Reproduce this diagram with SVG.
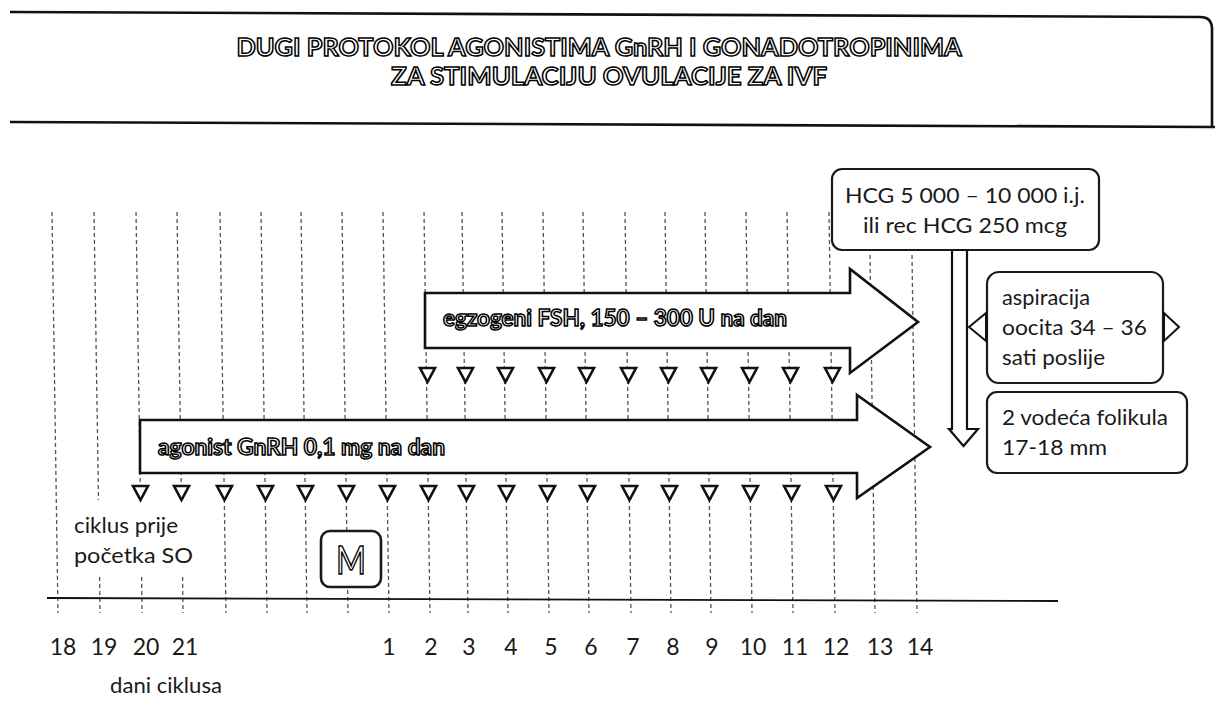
<svg xmlns="http://www.w3.org/2000/svg" xmlns:xlink="http://www.w3.org/1999/xlink" width="1215" height="704" viewBox="0 0 1215 704">
<style>
.grid{stroke:#555;stroke-width:1.3;stroke-dasharray:4 3;fill:none}
.frame{fill:none;stroke:#111;stroke-width:2.6}
.box{fill:#fff;stroke:#1a1a1a;stroke-width:2.2}
.arrow{fill:#fff;stroke:#111;stroke-width:2.6;stroke-linejoin:miter}
.tri{fill:#fff;stroke:#111;stroke-width:2.6;stroke-linejoin:miter}
.t{font-family:Lato,"Liberation Sans",sans-serif;font-size:21px;fill:#1a1a1a}
.n{font-family:Lato,"Liberation Sans",sans-serif;font-size:23px;fill:#1a1a1a;text-anchor:middle}
.o{font-family:Lato,"Liberation Sans",sans-serif;font-weight:bold;fill:#fff;stroke:#000;stroke-width:1.5}
</style>
<defs>
<path id="tri" class="tri" d="M-7.5,0 L7.5,0 L0,14 Z"/>
</defs>
<rect width="1215" height="704" fill="#fff"/>

<g id="title">
<path class="frame" d="M10,12 L1200,17 Q1212,17 1212,29 L1212,127"/>
<path class="frame" d="M10,122 L1215,127"/>
<text class="o" x="599" y="56" font-size="25" text-anchor="middle" textLength="725" lengthAdjust="spacingAndGlyphs">DUGI PROTOKOL AGONISTIMA GnRH I GONADOTROPINIMA</text>
<text class="o" x="609" y="85" font-size="25" text-anchor="middle" textLength="436" lengthAdjust="spacingAndGlyphs">ZA STIMULACIJU OVULACIJE ZA IVF</text>
</g>

<g id="connectors">
<line class="grid" x1="52" y1="212" x2="58" y2="613"/>
<line class="grid" x1="94" y1="212" x2="98.5" y2="500"/>
<line class="grid" x1="99.6" y1="577" x2="100" y2="613"/>
<line class="grid" x1="136" y1="212" x2="140.5" y2="500"/>
<line class="grid" x1="141.6" y1="577" x2="142" y2="613"/>
<line class="grid" x1="177" y1="212" x2="181.5" y2="500"/>
<line class="grid" x1="182.6" y1="577" x2="183" y2="613"/>
<line class="grid" x1="220" y1="212" x2="226" y2="613"/>
<line class="grid" x1="261" y1="212" x2="267" y2="613"/>
<line class="grid" x1="301" y1="212" x2="307" y2="613"/>
<line class="grid" x1="342" y1="212" x2="348" y2="613"/>
<line class="grid" x1="383" y1="212" x2="389" y2="613"/>
<line class="grid" x1="424" y1="212" x2="430" y2="613"/>
<line class="grid" x1="462" y1="212" x2="468" y2="613"/>
<line class="grid" x1="502" y1="212" x2="508" y2="613"/>
<line class="grid" x1="543" y1="212" x2="549" y2="613"/>
<line class="grid" x1="583" y1="212" x2="589" y2="613"/>
<line class="grid" x1="625" y1="212" x2="631" y2="613"/>
<line class="grid" x1="665" y1="212" x2="671" y2="613"/>
<line class="grid" x1="705" y1="212" x2="711" y2="613"/>
<line class="grid" x1="746" y1="212" x2="752" y2="613"/>
<line class="grid" x1="787" y1="212" x2="793" y2="613"/>
<line class="grid" x1="829" y1="212" x2="835" y2="613"/>
<line class="grid" x1="870" y1="255" x2="875" y2="613"/>
<line class="grid" x1="912" y1="255" x2="917" y2="613"/>
<path class="frame" style="stroke-width:1.8" d="M47,598 L1058,601"/>
</g>

<g id="agonist-arrow">
<polygon class="arrow" points="140,420 857,420 857,395 930,447 857,498 857,473 140,473"/>
<text class="o" x="158" y="455" font-size="22" textLength="287" lengthAdjust="spacingAndGlyphs">agonist GnRH 0,1 mg na dan</text>
</g>

<g id="fsh-arrow">
<polygon class="arrow" points="425,293 850,293 850,269 918,322 850,373 850,348 425,348"/>
<text class="o" x="443" y="326" font-size="22" textLength="344" lengthAdjust="spacingAndGlyphs">egzogeni FSH, 150 – 300 U na dan</text>
</g>

<g id="agonist-doses">
<use xlink:href="#tri" x="140.5" y="486"/>
<use xlink:href="#tri" x="181.5" y="486"/>
<use xlink:href="#tri" x="224.5" y="486"/>
<use xlink:href="#tri" x="265.5" y="486"/>
<use xlink:href="#tri" x="305.5" y="486"/>
<use xlink:href="#tri" x="346.5" y="486"/>
<use xlink:href="#tri" x="387.5" y="486"/>
<use xlink:href="#tri" x="428.5" y="486"/>
<use xlink:href="#tri" x="466.5" y="486"/>
<use xlink:href="#tri" x="506.5" y="486"/>
<use xlink:href="#tri" x="547.5" y="486"/>
<use xlink:href="#tri" x="587.5" y="486"/>
<use xlink:href="#tri" x="629.5" y="486"/>
<use xlink:href="#tri" x="669.5" y="486"/>
<use xlink:href="#tri" x="709.5" y="486"/>
<use xlink:href="#tri" x="750.5" y="486"/>
<use xlink:href="#tri" x="791.5" y="486"/>
<use xlink:href="#tri" x="833.5" y="486"/>
</g>

<g id="fsh-doses">
<use xlink:href="#tri" x="427.5" y="368"/>
<use xlink:href="#tri" x="465.5" y="368"/>
<use xlink:href="#tri" x="505.5" y="368"/>
<use xlink:href="#tri" x="546.5" y="368"/>
<use xlink:href="#tri" x="586.5" y="368"/>
<use xlink:href="#tri" x="628.5" y="368"/>
<use xlink:href="#tri" x="668.5" y="368"/>
<use xlink:href="#tri" x="708.5" y="368"/>
<use xlink:href="#tri" x="749.5" y="368"/>
<use xlink:href="#tri" x="790.5" y="368"/>
<use xlink:href="#tri" x="832.5" y="368"/>
</g>

<g id="hcg">
<rect class="box" x="832" y="169" width="267" height="81" rx="10"/>
<text class="t" x="965" y="203" text-anchor="middle" textLength="240" lengthAdjust="spacingAndGlyphs">HCG 5 000 – 10 000 i.j.</text>
<text class="t" x="965" y="233" text-anchor="middle" textLength="204" lengthAdjust="spacingAndGlyphs">ili rec HCG 250 mcg</text>
<polygon class="arrow" style="stroke-width:2.2" points="952,250 967,250 967,429 978,429 963.5,446 949,429 952,429"/>
</g>

<g id="aspiracija">
<rect class="box" x="987" y="272" width="176" height="111" rx="12"/>
<polygon class="tri" style="stroke-width:2" points="986,313 969,327 986,341"/>
<polygon class="tri" style="stroke-width:2" points="1164,313 1179,327 1164,341"/>
<text class="t" x="1002" y="305" textLength="88" lengthAdjust="spacingAndGlyphs">aspiracija</text>
<text class="t" x="1002" y="335" textLength="145" lengthAdjust="spacingAndGlyphs">oocita 34 – 36</text>
<text class="t" x="1002" y="365" textLength="103" lengthAdjust="spacingAndGlyphs">sati poslije</text>
</g>

<g id="folikula">
<rect class="box" x="987" y="392" width="200" height="81" rx="10"/>
<text class="t" x="1002" y="425" textLength="166" lengthAdjust="spacingAndGlyphs">2 vodeća folikula</text>
<text class="t" x="1002" y="455" textLength="105" lengthAdjust="spacingAndGlyphs">17-18 mm</text>
</g>

<g id="ciklus-label">
<text class="t" x="74" y="533" textLength="104" lengthAdjust="spacingAndGlyphs">ciklus prije</text>
<text class="t" x="74" y="563" textLength="119" lengthAdjust="spacingAndGlyphs">početka SO</text>
</g>

<g id="menstruation">
<rect class="box" style="stroke-width:2.6" x="321" y="531" width="60" height="56" rx="9"/>
<text class="o" x="351" y="574" font-size="38" text-anchor="middle" textLength="30" lengthAdjust="spacingAndGlyphs" style="font-weight:normal">M</text>
</g>

<g id="axis-labels">
<text class="n" x="63" y="655">18</text>
<text class="n" x="104" y="655">19</text>
<text class="n" x="146" y="655">20</text>
<text class="n" x="185" y="655">21</text>
<text class="n" x="389" y="655">1</text>
<text class="n" x="431" y="655">2</text>
<text class="n" x="469" y="655">3</text>
<text class="n" x="511" y="655">4</text>
<text class="n" x="551" y="655">5</text>
<text class="n" x="591" y="655">6</text>
<text class="n" x="633" y="655">7</text>
<text class="n" x="673" y="655">8</text>
<text class="n" x="712" y="655">9</text>
<text class="n" x="753" y="655">10</text>
<text class="n" x="795" y="655">11</text>
<text class="n" x="836" y="655">12</text>
<text class="n" x="880" y="655">13</text>
<text class="n" x="920" y="655">14</text>
<text class="t" x="110" y="693" textLength="112" lengthAdjust="spacingAndGlyphs">dani ciklusa</text>
</g>
</svg>
